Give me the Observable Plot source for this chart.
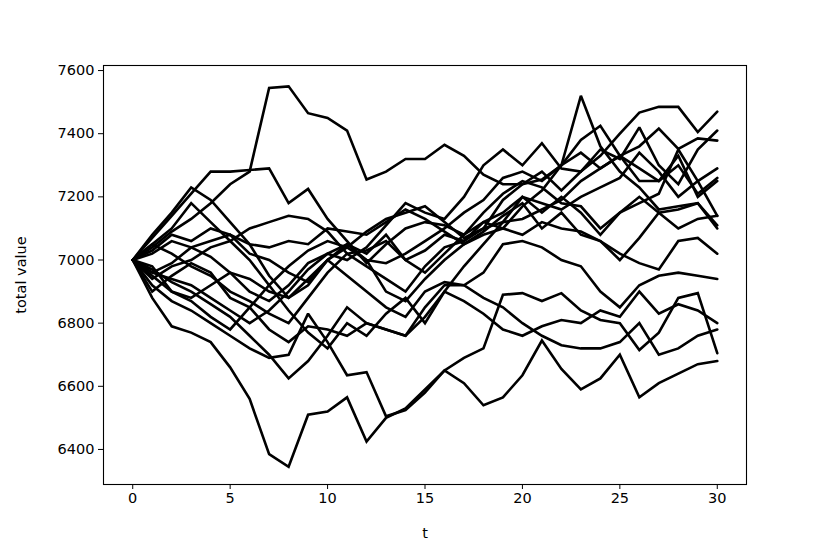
<!DOCTYPE html>
<html>
<head>
<meta charset="utf-8">
<script src="https://cdn.jsdelivr.net/npm/d3@7"></script>
<script src="https://cdn.jsdelivr.net/npm/@observablehq/plot@0.6"></script>
<style>
  html, body { margin: 0; padding: 0; background: #fff; }
</style>
</head>
<body>
<div id="chart"></div>
<script>
const t = [0,1,2,3,4,5,6,7,8,9,10,11,12,13,14,15,16,17,18,19,20,21,22,23,24,25,26,27,28,29,30];
const xTicks = [0, 5, 10, 15, 20, 25, 30];
const yTicks = [6400, 6600, 6800, 7000, 7200, 7400, 7600];

const s1  = [7000,6880,6790,6770,6740,6660,6560,6385,6345,6510,6520,6565,6425,6500,6530,6590,6650,6690,6720,6890,6895,6870,6895,6840,6810,6800,6715,6770,6880,6895,6705];
const s2  = [7000,6920,6870,6840,6800,6760,6720,6690,6700,6830,6740,6635,6645,6505,6525,6580,6650,6610,6540,6565,6635,6745,6655,6590,6625,6700,6565,6610,6640,6670,6680];
const s3  = [7000,7040,7090,7130,7180,7240,7280,7545,7550,7465,7450,7410,7255,7280,7320,7320,7365,7330,7270,7240,7240,7255,7300,7340,7290,7330,7290,7250,7300,7210,7260];
const s4  = [7000,7070,7140,7210,7280,7280,7285,7290,7180,7225,7130,7060,6990,7050,7100,7120,7110,7080,7150,7210,7250,7230,7180,7170,7100,7150,7180,7210,7350,7250,7140];
const s5  = [7000,7080,7150,7230,7190,7120,7050,6950,6880,6920,7000,7050,7020,7080,7000,6960,7020,7080,7120,7100,7170,7220,7300,7520,7360,7280,7230,7160,7170,7180,7100];
const s6  = [7000,6960,6990,7040,7060,7080,7020,7000,6960,6930,7000,7040,7090,7130,7150,7170,7120,7070,7100,7190,7240,7280,7220,7280,7330,7400,7467,7485,7485,7405,7470];
const s7  = [7000,7020,7060,7040,7010,6960,6900,6870,6920,6990,7020,7000,7040,7110,7180,7150,7130,7200,7300,7350,7300,7370,7290,7280,7350,7320,7420,7300,7240,7350,7410];
const s8  = [7000,6950,6900,6870,6820,6780,6850,6920,6980,7030,7060,7040,7000,6990,7020,7060,7100,7150,7190,7260,7280,7250,7300,7380,7425,7330,7360,7416,7352,7385,7378];
const s9  = [7000,7050,7020,6980,6950,6900,6870,6830,6800,6880,6960,7020,6980,6940,6900,6980,7040,7060,7120,7150,7200,7180,7160,7200,7230,7260,7340,7280,7200,7250,7290];
const s10 = [7000,6940,6980,7000,7040,7060,7100,7120,7140,7130,7090,7020,7030,7060,7000,7030,7080,7060,7100,7120,7130,7160,7190,7250,7290,7330,7250,7250,7330,7200,7250];
const s11 = [7000,7030,7080,7060,7100,7080,7050,7040,7060,7050,7100,7090,7080,7120,7160,7130,7090,7050,7090,7140,7180,7100,7150,7080,7060,7000,7070,7150,7160,7180,7110];
const s12 = [7000,6960,6940,6920,6880,6840,6800,6840,6900,6970,7020,7050,7000,6900,6870,6940,7000,7050,7080,7100,7080,7120,7100,7090,7060,7020,6990,6970,7060,7070,7020];
const s13 = [7000,6900,6950,6990,6960,6880,6850,6780,6740,6790,6780,6760,6800,6780,6760,6850,6920,6920,6960,7050,7060,7040,7000,6980,6900,6850,6920,6950,6960,6950,6940];
const s14 = [7000,6970,6930,6900,6860,6820,6760,6700,6625,6680,6760,6850,6800,6780,6760,6820,6900,6870,6830,6780,6760,6790,6810,6800,6840,6820,6900,6830,6860,6840,6800];
const s15 = [7000,6980,6900,6880,6920,6960,6940,6900,6880,6940,7000,6950,6900,6850,6820,6900,6930,6920,6880,6850,6800,6760,6730,6720,6720,6740,6800,6700,6720,6760,6780];
const s16 = [7000,7050,7100,7180,7120,7060,7000,6920,6840,6770,6720,6800,6760,6830,6880,6800,6900,6980,7050,7120,7200,7150,7200,7150,7080,7150,7200,7150,7100,7130,7140];

const seriesList = [s1,s2,s3,s4,s5,s6,s7,s8,s9,s10,s11,s12,s13,s14,s15,s16];
const rows = [];
seriesList.forEach((s, k) => s.forEach((v, i) => rows.push({run: k, t: t[i], value: v})));

const chart = Plot.plot({
  width: 830,
  height: 554,
  marginLeft: 103,
  marginRight: 84,
  marginTop: 65,
  marginBottom: 70,
  style: {fontFamily: "DejaVu Sans", fontSize: "14.5px", color: "#000", background: "#fff"},
  x: {domain: [-1.5, 31.5]},
  y: {domain: [6289, 7616]},
  marks: [
    Plot.line(rows, {x: "t", y: "value", z: "run", stroke: "#000", strokeWidth: 2.6, strokeLinejoin: "miter", strokeMiterlimit: 2}),
    Plot.frame({stroke: "#000", strokeWidth: 1.1}),
    Plot.axisX({ticks: xTicks, tickSize: 5, tickPadding: 3, label: "t", labelAnchor: "center", labelArrow: "none", labelOffset: 53}),
    Plot.axisY({ticks: yTicks, tickSize: 5, tickPadding: 4, tickFormat: d => String(d), label: "total value", labelAnchor: "center", labelArrow: "none", labelOffset: 88})
  ]
});
document.getElementById("chart").appendChild(chart);
</script>
</body>
</html>
